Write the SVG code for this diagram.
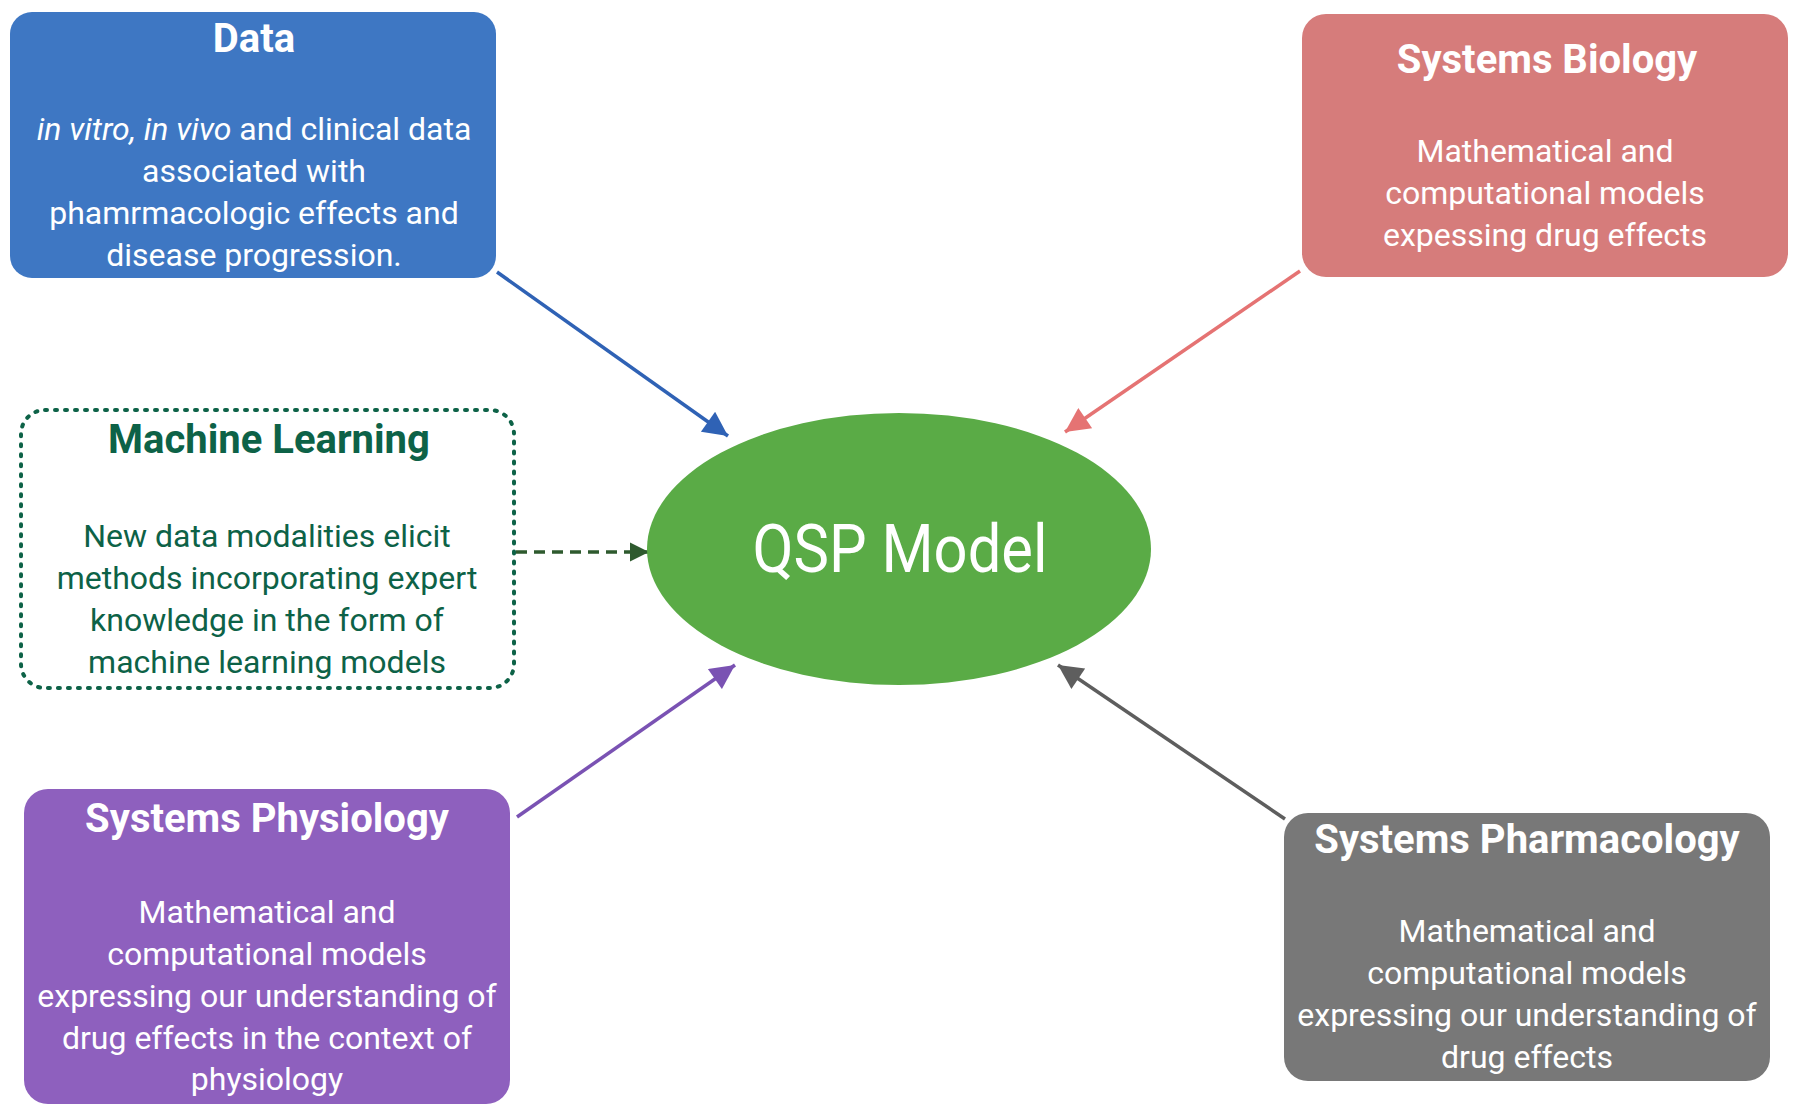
<svg xmlns="http://www.w3.org/2000/svg" width="1800" height="1115" viewBox="0 0 1800 1115">
<style>
.t{font-family:Roboto,"Liberation Sans",sans-serif;font-weight:700;font-size:40px;text-anchor:middle;fill:#fff}
.b{font-family:Roboto,"Liberation Sans",sans-serif;font-weight:400;font-size:32px;text-anchor:middle;fill:#fff}
.g{fill:#0d6247}
.c{fill:none;stroke-width:3.5}
</style>
<defs>
<marker id="mBlue" viewBox="0 0 10 10" refX="10" refY="5" markerWidth="7.5" markerHeight="7" markerUnits="strokeWidth" orient="auto"><path d="M0,0 L10,5 L0,10 z" fill="#2f62b5"/></marker>
<marker id="mRed" viewBox="0 0 10 10" refX="10" refY="5" markerWidth="7.5" markerHeight="7" markerUnits="strokeWidth" orient="auto"><path d="M0,0 L10,5 L0,10 z" fill="#e57373"/></marker>
<marker id="mGreen" viewBox="0 0 10 10" refX="10" refY="5" markerWidth="5.5" markerHeight="5.5" markerUnits="strokeWidth" orient="auto"><path d="M0,0 L10,5 L0,10 z" fill="#2e5a2e"/></marker>
<marker id="mPurple" viewBox="0 0 10 10" refX="10" refY="5" markerWidth="7.5" markerHeight="7" markerUnits="strokeWidth" orient="auto"><path d="M0,0 L10,5 L0,10 z" fill="#7a52b3"/></marker>
<marker id="mGray" viewBox="0 0 10 10" refX="10" refY="5" markerWidth="7.5" markerHeight="7" markerUnits="strokeWidth" orient="auto"><path d="M0,0 L10,5 L0,10 z" fill="#5e5e5e"/></marker>
</defs>
<rect width="1800" height="1115" fill="#fff"/>

<g id="connectors">
<line class="c" x1="497" y1="272" x2="728" y2="436" stroke="#2f62b5" marker-end="url(#mBlue)"/>
<line class="c" x1="1300" y1="271" x2="1065" y2="432" stroke="#e57373" marker-end="url(#mRed)"/>
<line class="c" x1="516" y1="552" x2="649" y2="552" stroke="#2e5a2e" stroke-width="5" stroke-dasharray="11 7" marker-end="url(#mGreen)"/>
<line class="c" x1="517" y1="817" x2="735" y2="665" stroke="#7a52b3" marker-end="url(#mPurple)"/>
<line class="c" x1="1285" y1="819" x2="1058" y2="665" stroke="#5e5e5e" marker-end="url(#mGray)"/>
</g>

<g id="qsp">
<ellipse cx="899" cy="549" rx="252" ry="136" fill="#5aab46"/>
<text x="900" y="572" font-family="Roboto,'Liberation Sans',sans-serif" font-weight="400" font-size="66" text-anchor="middle" fill="#fff" textLength="295" lengthAdjust="spacingAndGlyphs">QSP Model</text>
</g>

<g id="data">
<rect x="10" y="12" width="486" height="266" rx="22" fill="#3e77c3"/>
<text class="t" x="254" y="52">Data</text>
<text class="b" x="254" y="140"><tspan font-style="italic">in vitro, in vivo</tspan> and clinical data</text>
<text class="b" x="254" y="182">associated with</text>
<text class="b" x="254" y="224">phamrmacologic effects and</text>
<text class="b" x="254" y="266">disease progression.</text>
</g>

<g id="systems-biology">
<rect x="1302" y="14" width="486" height="263" rx="24" fill="#d67c7b"/>
<text class="t" x="1547" y="73">Systems Biology</text>
<text class="b" x="1545" y="162">Mathematical and</text>
<text class="b" x="1545" y="204">computational models</text>
<text class="b" x="1545" y="246">expessing drug effects</text>
</g>

<g id="machine-learning">
<rect x="21" y="410" width="493" height="278" rx="24" fill="none" stroke="#0d6247" stroke-width="4" stroke-linecap="round" stroke-dasharray="2 8"/>
<text class="t g" x="269" y="453">Machine Learning</text>
<text class="b g" x="267" y="547">New data modalities elicit</text>
<text class="b g" x="267" y="589">methods incorporating expert</text>
<text class="b g" x="267" y="631">knowledge in the form of</text>
<text class="b g" x="267" y="673">machine learning models</text>
</g>

<g id="systems-physiology">
<rect x="24" y="789" width="486" height="315" rx="24" fill="#8e60be"/>
<text class="t" x="267" y="832">Systems Physiology</text>
<text class="b" x="267" y="923">Mathematical and</text>
<text class="b" x="267" y="965">computational models</text>
<text class="b" x="267" y="1007">expressing our understanding of</text>
<text class="b" x="267" y="1049">drug effects in the context of</text>
<text class="b" x="267" y="1090">physiology</text>
</g>

<g id="systems-pharmacology">
<rect x="1284" y="813" width="486" height="268" rx="24" fill="#787878"/>
<text class="t" x="1527" y="853">Systems Pharmacology</text>
<text class="b" x="1527" y="942">Mathematical and</text>
<text class="b" x="1527" y="984">computational models</text>
<text class="b" x="1527" y="1026">expressing our understanding of</text>
<text class="b" x="1527" y="1068">drug effects</text>
</g>
</svg>
